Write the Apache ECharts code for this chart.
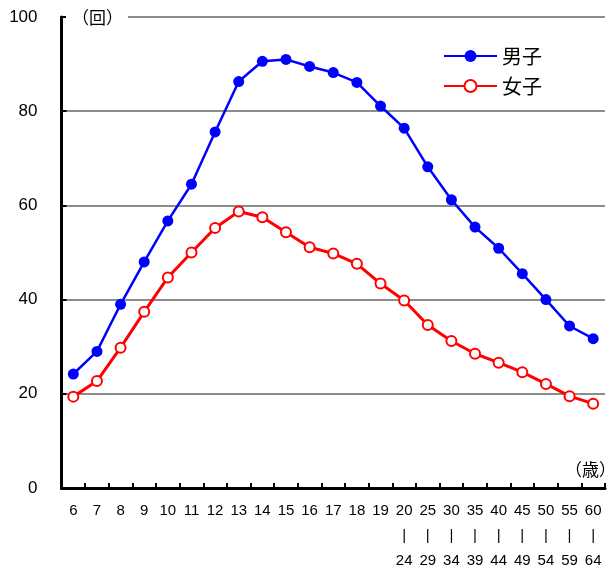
<!DOCTYPE html>
<html>
<head>
<meta charset="utf-8">
<script src="https://cdn.jsdelivr.net/npm/echarts@6/dist/echarts.min.js"></script>
<style>
    html, body { margin: 0; padding: 0; background: #fff; }
    #chart { width: 609px; height: 573px; }
</style>
</head>
<body>
<div id="chart"></div>
<script>
// 年齢区分 (x軸ラベル)
var ageLabels = [ '6', '7', '8', '9', '10', '11', '12', '13', '14', '15', '16', '17', '18', '19',
    '20\n|\n24', '25\n|\n29', '30\n|\n34', '35\n|\n39', '40\n|\n44', '45\n|\n49', '50\n|\n54', '55\n|\n59', '60\n|\n64' ];
// 男子
var maleValues = [ 24.2, 29.0, 39.0, 48.0, 56.7, 64.5, 75.6, 86.3, 90.6, 91.0, 89.5, 88.2, 86.1, 81.1,
    76.4, 68.2, 61.2, 55.4, 50.9, 45.5, 40.0, 34.4, 31.7 ];
// 女子
var femaleValues = [ 19.4, 22.7, 29.8, 37.4, 44.7, 50.0, 55.2, 58.7, 57.5, 54.3, 51.1, 49.8, 47.6, 43.4,
    39.8, 34.6, 31.2, 28.5, 26.6, 24.6, 22.1, 19.5, 17.9 ];
var yTicks = [ 0, 20, 40, 60, 80, 100 ];

var jpFont = '"Noto Sans CJK JP", sans-serif';

var myChart = echarts.init( document.getElementById( 'chart' ), null, { renderer: 'canvas' } ),
    option = {
        animation: false,
        backgroundColor: '#fff',
        title: [
            {
                text: '（回）',
                left: 66,
                top: 7,
                padding: [ 0, 5, 0, 6 ],
                backgroundColor: '#fff',
                textStyle: { fontFamily: jpFont, fontSize: 17, fontWeight: 'normal', color: '#000', lineHeight: 22 }
            },
            {
                text: '（歳）',
                right: -7,
                top: 461,
                padding: 0,
                textStyle: { fontFamily: jpFont, fontSize: 17, fontWeight: 'normal', color: '#000' }
            }
        ],
        legend: {
            orient: 'vertical',
            left: 438,
            top: 41,
            itemWidth: 53,
            itemHeight: 15,
            itemGap: 10,
            textStyle: { fontFamily: jpFont, fontSize: 20, color: '#000' },
            data: [ '男子', '女子' ]
        },
        grid: {
            left: 61.5,
            right: 4,
            top: 17,
            bottom: 80,
            containLabel: false
        },
        xAxis: {
            type: 'category',
            boundaryGap: true,
            data: ageLabels,
            axisLine: { lineStyle: { color: '#000', width: 3 } },
            axisTick: { show: true, inside: true, length: 5, alignWithLabel: false, lineStyle: { color: '#000', width: 2 } },
            axisLabel: {
                interval: 0,
                margin: 10,
                color: '#000',
                fontFamily: '"Liberation Sans", Arial, sans-serif',
                fontSize: 15,
                lineHeight: 25
            },
            splitLine: { show: false }
        },
        yAxis: {
            type: 'value',
            min: yTicks[ 0 ],
            max: yTicks[ yTicks.length - 1 ],
            interval: 20,
            axisLine: { show: true, lineStyle: { color: '#000', width: 3 } },
            axisTick: { show: true, inside: true, length: 5, lineStyle: { color: '#000', width: 2 } },
            axisLabel: {
                margin: 24,
                color: '#000',
                fontFamily: '"Liberation Sans", Arial, sans-serif',
                fontSize: 17
            },
            splitLine: { show: true, lineStyle: { color: '#8c8c8c', width: 2 } }
        },
        series: [
            {
                name: '男子',
                type: 'line',
                data: maleValues,
                symbol: 'circle',
                symbolSize: 11,
                lineStyle: { color: '#0000ff', width: 2.5 },
                itemStyle: { color: '#0000ff', borderColor: '#0000ff', borderWidth: 0 }
            },
            {
                name: '女子',
                type: 'line',
                data: femaleValues,
                symbol: 'circle',
                symbolSize: 10,
                lineStyle: { color: '#ff0000', width: 3 },
                itemStyle: { color: '#fff', borderColor: '#ff0000', borderWidth: 2 }
            }
        ]
    };

myChart.setOption( option );
</script>
</body>
</html>
